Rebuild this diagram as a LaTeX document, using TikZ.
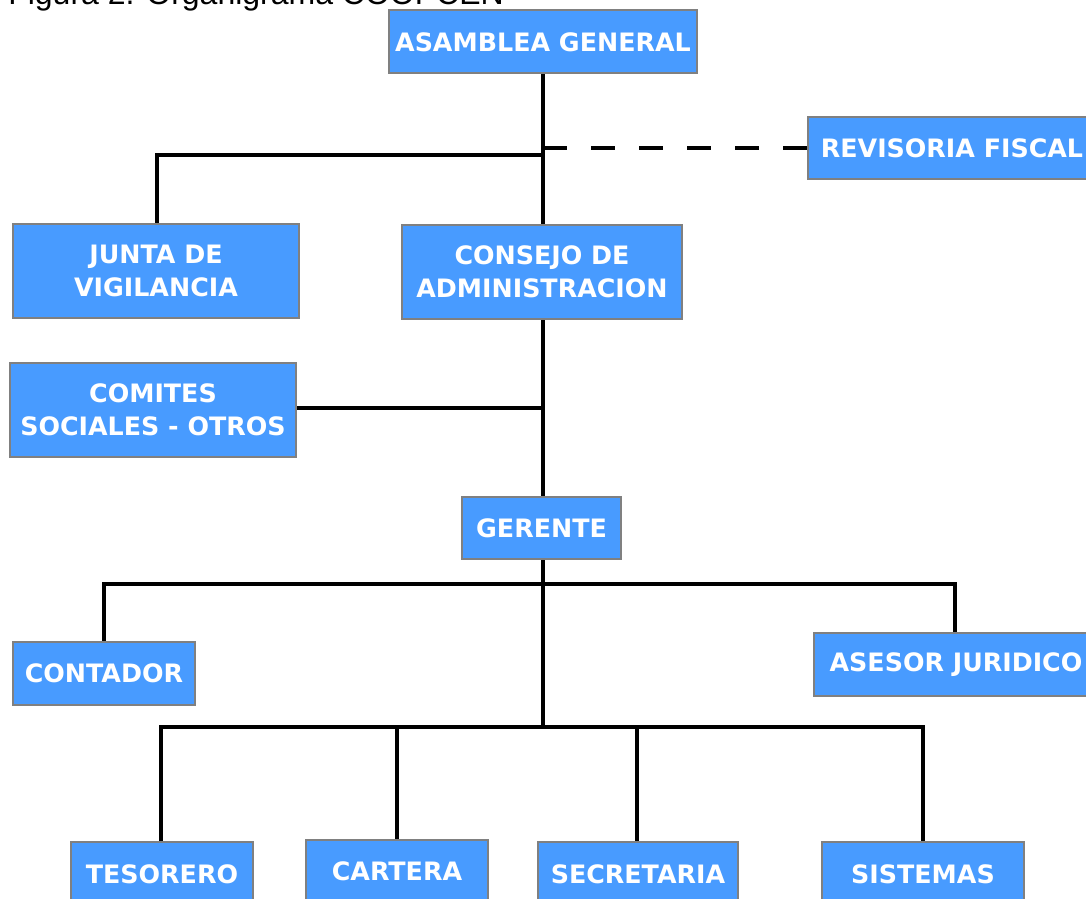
\documentclass[tikz,border=0pt]{standalone}
\usepackage{fontspec}
\setmainfont{DejaVu Sans}
\newfontfamily\titlefont{Liberation Sans}
\usetikzlibrary{fit}
\definecolor{boxblue}{RGB}{72,155,255}
\definecolor{boxgray}{RGB}{128,128,128}
\tikzset{
  box/.style={draw=boxgray, line width=1.6pt, fill=boxblue, inner sep=0pt},
  boxtext/.style={inner sep=0pt, text=white, font=\fontsize{19}{25}\selectfont\bfseries, align=center},
  link/.style={line width=3.1pt, black},
  dashlink/.style={line width=3.1pt, black, dash pattern=on 18pt off 18pt}
}
\begin{document}
\begin{tikzpicture}[x=0.75pt,y=-0.75pt]
\useasboundingbox (0,0) rectangle (1086,899);
\node[anchor=base west, inner sep=0pt, font=\titlefont\fontsize{24}{28}\selectfont] (title) at (8,5) {Figura 2. Organigrama COOPCEN};
% connectors drawn first, under the boxes
\coordinate (top) at (543,73);
\coordinate (j1) at (543,155);
\coordinate (j2) at (543,148);
\coordinate (j3) at (543,408);
\coordinate (j4) at (543,584);
\coordinate (j5) at (543,727);
\coordinate (cat) at (543,225);
\coordinate (cab) at (543,319);
\coordinate (get) at (543,497);
\coordinate (geb) at (543,559);
\draw[link] (top) -- (cat);
\draw[link] (j1) -| (157,224) coordinate (jvt);
\draw[dashlink] (j2) -- (808,148) coordinate (rfw);
\draw[link] (cab) -- (get);
\draw[link] (296,408) coordinate (cse) -- (j3);
\draw[link] (geb) -- (j5);
\draw[link] (j4) -| (104,642) coordinate (cot);
\draw[link] (j4) -| (955,633) coordinate (ast);
\draw[link] (j5) -| (161,842) coordinate (tet);
\draw[link] (j5) -| (397,840) coordinate (cart);
\draw[link] (j5) -| (637,842) coordinate (set);
\draw[link] (j5) -| (923,842) coordinate (sit);
% boxes
\node[box, fit={(389,10) (697,73)}] (ag) {};
\node[box, fit={(808,117) (1096,179)}] (rf) {};
\node[box, fit={(13,224) (299,318)}] (jv) {};
\node[box, fit={(402,225) (682,319)}] (ca) {};
\node[box, fit={(10,363) (296,457)}] (cs) {};
\node[box, fit={(462,497) (621,559)}] (ge) {};
\node[box, fit={(13,642) (195,705)}] (co) {};
\node[box, fit={(814,633) (1098,696)}] (as) {};
\node[box, fit={(71,842) (253,906)}] (te) {};
\node[box, fit={(306,840) (488,902)}] (car) {};
\node[box, fit={(538,842) (738,906)}] (se) {};
\node[box, fit={(822,842) (1024,906)}] (si) {};
% texts
\node[boxtext] (agT) at (543,42) {ASAMBLEA GENERAL};
\node[boxtext] (rfT) at (952,148) {REVISORIA FISCAL};
\node[boxtext] (jvT) at (jv.center) {JUNTA DE\\VIGILANCIA};
\node[boxtext] (caT) at (ca.center) {CONSEJO DE\\ADMINISTRACION};
\node[boxtext] (csT) at (cs.center) {COMITES\\SOCIALES - OTROS};
\node[boxtext] (geT) at (ge.center) {GERENTE};
\node[boxtext] (coT) at (co.center) {CONTADOR};
\node[boxtext] (asT) at (956,665) {ASESOR JURIDICO};
\node[boxtext] (teT) at (162,874) {TESORERO};
\node[boxtext] (carT) at (397,871) {CARTERA};
\node[boxtext] (seT) at (638,874) {SECRETARIA};
\node[boxtext] (siT) at (923,874) {SISTEMAS};
\end{tikzpicture}
\end{document}
